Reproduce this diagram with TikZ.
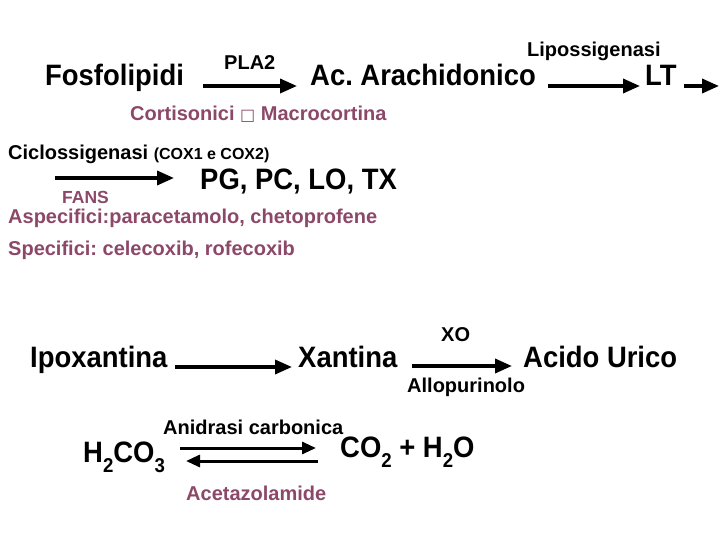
\documentclass[tikz,border=0pt]{standalone}
\usepackage{fontspec}
\setmainfont{Liberation Sans}
\newfontfamily\bigfont{Liberation Sans}[FakeStretch=0.93]
\newfontfamily\symfont{DejaVu Sans}
\usetikzlibrary{positioning,arrows.meta}
\definecolor{mauve}{RGB}{140,72,104}
\newcommand{\sbs}[1]{\raisebox{-0.35em}{\fontsize{20}{22}\selectfont #1}}
\frenchspacing

\begin{document}
\begin{tikzpicture}[x=1pt,y=-1pt,
    big/.style={anchor=base west, inner sep=0pt, font=\bigfont\fontsize{29.5}{32}\selectfont\bfseries},
    enz/.style={anchor=base west, inner sep=0pt, font=\fontsize{20}{22}\selectfont\bfseries},
    drug/.style={enz, text=mauve},
    react/.style={-{Triangle[length=17pt,width=14pt]}, line width=3.5pt},
    eq/.style={-{Triangle[length=14pt,width=12pt]}, line width=3pt}]
    \useasboundingbox (0,0) rectangle (720,540);

    % acido arachidonico
    \node[big] (fosfo) at (45,86) {Fosfolipidi};
    \node[enz] (pla2) at (224,70) {PLA2};
    \node[big] (arach) at (310,86) {Ac. Arachidonico};
    \node[enz] (lipo) at (527,57) {Lipossigenasi};
    \node[big] (lt) at (645,86) {LT};
    \node[drug] (cort) at (130,121) {Cortisonici {\symfont\fontsize{16}{18}\selectfont □} Macrocortina};
    \coordinate (pla2s) at (203,86);
    \coordinate (pla2e) at (297,86);
    \coordinate (lipos) at (548,86);
    \coordinate (lipoe) at (640,86);
    \coordinate (lts) at (684,86);
    \coordinate (lte) at (719,86);
    \draw[react] (pla2s) -- (pla2e);
    \draw[react] (lipos) -- (lipoe);
    \draw[react] (lts) -- (lte);

    % ciclossigenasi
    \node[enz] (cox) at (8,160) {Ciclossigenasi {\fontsize{16}{18}\selectfont(COX1 e COX2)}};
    \node[big] (pg) at (200,190) {PG, PC, LO, TX};
    \node[drug, font=\fontsize{17.5}{19}\selectfont\bfseries] (fans) at (62,204) {FANS};
    \node[drug] (aspec) at (8,224) {Aspecifici:paracetamolo, chetoprofene};
    \node[drug] (spec) at (8,255) {Specifici: celecoxib, rofecoxib};
    \coordinate (coxs) at (55,178);
    \coordinate (coxe) at (174,178);
    \draw[react] (coxs) -- (coxe);

    % xantina ossidasi
    \node[big] (ipox) at (30,367) {Ipoxantina};
    \node[big] (xant) at (298,367) {Xantina};
    \node[enz] (xo) at (441,341) {XO};
    \node[big] (urico) at (523,367) {Acido Urico};
    \node[enz] (allo) at (407,392) {Allopurinolo};
    \coordinate (ipoxs) at (175,367);
    \coordinate (ipoxe) at (292,367);
    \coordinate (xants) at (412,366);
    \coordinate (xante) at (512,366);
    \draw[react] (ipoxs) -- (ipoxe);
    \draw[react] (xants) -- (xante);

    % anidrasi carbonica
    \node[enz] (anid) at (163,434) {Anidrasi carbonica};
    \node[big] (h2co3) at (83,462) {H\sbs{2}CO\sbs{3}};
    \node[big] (co2) at (340,457) {CO\sbs{2} + H\sbs{2}O};
    \node[drug] (aceta) at (186,500) {Acetazolamide};
    \coordinate (fwds) at (180,448);
    \coordinate (fwde) at (316,448);
    \coordinate (bcks) at (318,461);
    \coordinate (bcke) at (186,461);
    \draw[eq] (fwds) -- (fwde);
    \draw[eq] (bcks) -- (bcke);
\end{tikzpicture}
\end{document}
